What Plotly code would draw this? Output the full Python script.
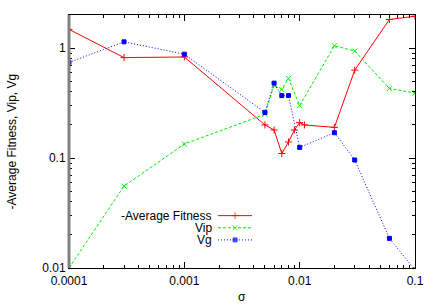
import plotly.graph_objects as go

sigma = [0.0001, 0.0003, 0.001, 0.005, 0.006, 0.007, 0.008, 0.009, 0.01, 0.011, 0.02, 0.03, 0.06, 0.1]
neg_avg_fitness = [1.48, 0.82, 0.83, 0.20, 0.18, 0.11, 0.14, 0.18, 0.21, 0.20, 0.19, 0.63, 1.82, 1.95]

sigma_v = [0.0001, 0.0003, 0.001, 0.005, 0.006, 0.007, 0.008, 0.01, 0.02, 0.03, 0.06, 0.1]
vip = [0.01, 0.0556, 0.134, 0.25, 0.46, 0.42, 0.53, 0.30, 1.05, 0.94, 0.43, 0.39]
vg = [0.74, 1.14, 0.88, 0.26, 0.48, 0.37, 0.37, 0.125, 0.17, 0.096, 0.0186, 0.0096]

names = ["-Average Fitness", "Vip", "Vg"]
colors = ["#ff0000", "#00ee00", "#0000ff"]
dashes = ["solid", "3px,2px", "1px,2px"]
symbols = ["cross-thin-open", "x-thin-open", "square"]
msizes = [5, 5, 4]

font = "Liberation Sans, Arial, sans-serif"
fig = go.Figure()
series = [(sigma, neg_avg_fitness), (sigma_v, vip), (sigma_v, vg)]
for (xs, ys), n, c, d, s, ms in zip(series, names, colors, dashes, symbols, msizes):
    fig.add_trace(go.Scatter(
        x=xs, y=ys, mode="lines+markers", name=n,
        line=dict(color=c, width=1, dash=d),
        marker=dict(symbol=s, size=ms, color=c, line=dict(color=c, width=1)),
        showlegend=False))

# legend samples on an overlay axis (paper-like 0..1)
leg_y = [0.207, 0.159, 0.111]
for n, c, d, s, ms, yy in zip(names, colors, dashes, symbols, msizes, leg_y):
    fig.add_trace(go.Scatter(
        x=[0.4306, 0.48, 0.529], y=[yy, yy, yy], xaxis="x2", yaxis="y2",
        mode="lines+markers", line=dict(color=c, width=1, dash=d),
        marker=dict(symbol=s, size=[0, ms, 0], color=c, line=dict(color=c, width=1)),
        showlegend=False, hoverinfo="skip"))
    fig.add_annotation(x=0.42, y=yy, xref="paper", yref="paper", text=n,
                       showarrow=False, xanchor="right", yanchor="middle",
                       font=dict(family=font, size=12, color="black"))

axis_common = dict(type="log", showgrid=False, zeroline=False, automargin=False,
                   ticks="inside", ticklen=6, tickcolor="black", mirror="allticks",
                   showline=True, linecolor="black", linewidth=1,
                   tickfont=dict(family=font, size=12, color="black"),
                   minor=dict(ticks="inside", ticklen=3, tickcolor="black", dtick="D1"))

fig.update_layout(
    width=436, height=305,
    margin=dict(l=69, r=21, t=15, b=37),
    paper_bgcolor="white", plot_bgcolor="white",
    xaxis=dict(**axis_common, range=[-4, -1], tickvals=[0.0001, 0.001, 0.01, 0.1],
               ticktext=["0.0001", "0.001", "0.01", "0.1"], ticklabelstandoff=2),
    yaxis=dict(**axis_common, range=[-2, 0.301], tickvals=[0.01, 0.1, 1],
               ticktext=["0.01", "0.1", "1"]),
    xaxis2=dict(overlaying="x", range=[0, 1], visible=False),
    yaxis2=dict(overlaying="y", range=[0, 1], visible=False),
)
# axis titles
fig.add_annotation(x=0.5, y=-0.113, xref="paper", yref="paper", text="σ",
                   showarrow=False, xanchor="center", yanchor="middle",
                   font=dict(family=font, size=12, color="black"))
fig.add_annotation(x=-0.165, y=0.5, xref="paper", yref="paper", text="-Average Fitness, Vip, Vg",
                   showarrow=False, xanchor="center", yanchor="middle", textangle=-90,
                   font=dict(family=font, size=12, color="black"))
# grey thick left border like the reference
fig.add_shape(type="line", xref="paper", yref="paper", x0=0, x1=0, y0=0, y1=1,
              line=dict(color="#808080", width=3))

fig.write_html("out.html", config={"displayModeBar": False},
               post_script="document.body.style.margin='0';document.body.style.overflow='hidden';")
